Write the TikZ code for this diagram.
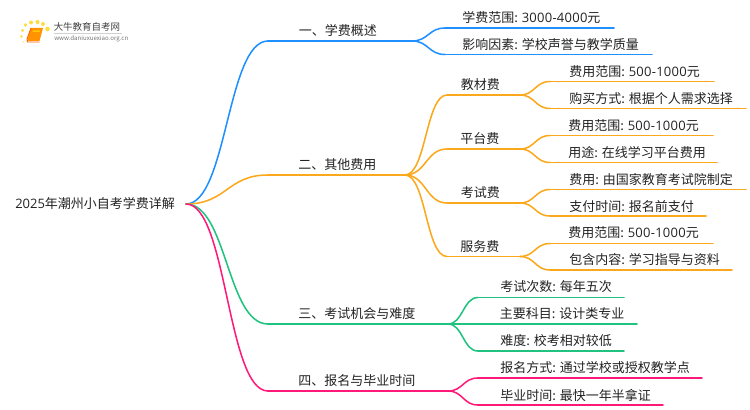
\documentclass[tikz,border=0pt]{standalone}
\usepackage{fontspec}
\setmainfont{Noto Sans CJK SC}
\newfontfamily\lat{Open Sans}
\newfontfamily\latw[LetterSpace=2]{Open Sans}
\usetikzlibrary{calc}
\definecolor{cblue}{HTML}{1E90FF}
\definecolor{corange}{HTML}{FBA81C}
\definecolor{cgreen}{HTML}{1FC27E}
\definecolor{cpink}{HTML}{FF1A7A}
\definecolor{ctext}{HTML}{222222}
\tikzset{
  lab/.style={anchor=west,inner sep=0pt,text=ctext,font=\fontsize{9.75pt}{11pt}\selectfont},
  wire/.style={line width=1.15pt,line cap=round},
  trunk/.style={line width=1.6pt,line cap=round},
}
\newcommand{\curveto}[3][wire]{\draw[#1] (#2) .. controls ($(#2)!0.5!(#3 |- #2)$) and ($(#3)!0.5!(#2 |- #3)$) .. (#3);}
\begin{document}
\begin{tikzpicture}[x=0.75pt,y=-0.75pt]
\useasboundingbox (0,0) rectangle (750,410);
% logo
\foreach \n/\a/\b/\r in {a/21.5/36.5/1.3,b/22.5/30.5/1.6,c/25.5/25/1.8,d/31/22.5/2,e/37.5/22/2.1,f/43/24/2,g/47.5/29/2.3}
  \fill[yellow!70!orange,opacity=.75] (\a,\b) circle[radius=\r];
\fill[yellow!60!orange,opacity=.4] (23,42) circle[radius=1];
\fill[orange!85!yellow] (31,28) -- (43,28) -- (39.5,41) -- (27,41) -- cycle;
\draw[orange!75!red,line width=.7pt] (31,28) -- (27,39) -- (27.5,42) -- (39.5,42);
\fill[yellow!60!orange] (33,30.5) -- (40,30.5) -- (39.5,32) -- (32.5,32) -- cycle;
\node[anchor=west,inner sep=0pt,text=black!75,font=\fontsize{7.1pt}{8pt}\selectfont] (logoname) at (53.5,26.7) {大牛教育自考网};
\draw[black!18,line width=.5pt] (54,33) -- (122,33);
\node[anchor=west,inner sep=0pt,text=black!55,font=\fontsize{4.6pt}{5pt}\selectfont] (logourl) at (54,38.5) {www.daniuxuexiao.org.cn};
% texts
\node[lab] (root) at (15,204) {{\lat 2025}年潮州小自考学费详解};
\node[lab] (b1) at (298.5,31) {一、学费概述};
\node[lab] (b2) at (298,165) {二、其他费用};
\node[lab] (b3) at (298,314) {三、考试机会与难度};
\node[lab] (b4) at (298,381) {四、报名与毕业时间};
\node[lab] (s11) at (462,17.5) {学费范围: {\latw 3000-4000}元};
\node[lab] (s12) at (462,44.5) {影响因素: 学校声誉与教学质量};
\node[lab] (s21) at (460.5,85) {教材费};
\node[lab] (s22) at (460,139) {平台费};
\node[lab] (s23) at (460.5,193) {考试费};
\node[lab] (s24) at (460,246.5) {服务费};
\node[lab] (t1) at (569,71.5) {费用范围: {\latw 500-1000}元};
\node[lab] (t2) at (569,98.5) {购买方式: 根据个人需求选择};
\node[lab] (t3) at (568,125.5) {费用范围: {\latw 500-1000}元};
\node[lab] (t4) at (568,152.5) {用途: 在线学习平台费用};
\node[lab] (t5) at (569,179.5) {费用: 由国家教育考试院制定};
\node[lab] (t6) at (569,206.5) {支付时间: 报名前支付};
\node[lab] (t7) at (568,233) {费用范围: {\latw 500-1000}元};
\node[lab] (t8) at (569,260) {包含内容: 学习指导与资料};
\node[lab] (g1) at (500,287) {考试次数: 每年五次};
\node[lab] (g2) at (499.5,314) {主要科目: 设计类专业};
\node[lab] (g3) at (500,341) {难度: 校考相对较低};
\node[lab] (p1) at (500,367.5) {报名方式: 通过学校或授权教学点};
\node[lab] (p2) at (500,395) {毕业时间: 最快一年半拿证};
% junction coordinates
\coordinate (r) at (186,204);
\coordinate (b1a) at (268,41);  \coordinate (b1b) at (412,41);
\coordinate (b2a) at (268,175); \coordinate (b2b) at (405,175);
\coordinate (b3a) at (268,324); \coordinate (b3b) at (448,324);
\coordinate (b4a) at (268,391); \coordinate (b4b) at (448,391);
\coordinate (s11a) at (445,28); \coordinate (s11b) at (614,28);
\coordinate (s12a) at (445,54.5); \coordinate (s12b) at (652,54.5);
\coordinate (s21a) at (447,95);  \coordinate (s21b) at (520,95);
\coordinate (s22a) at (447,149); \coordinate (s22b) at (520,149);
\coordinate (s23a) at (447,203); \coordinate (s23b) at (520,203);
\coordinate (s24a) at (447,256.5); \coordinate (s24b) at (520,256.5);
\coordinate (t1a) at (550,81.5);  \coordinate (t1b) at (714,81.5);
\coordinate (t2a) at (550,108.5); \coordinate (t2b) at (746,108.5);
\coordinate (t3a) at (550,135.5); \coordinate (t3b) at (713,135.5);
\coordinate (t4a) at (550,162.5); \coordinate (t4b) at (717,162.5);
\coordinate (t5a) at (550,189.5); \coordinate (t5b) at (746,189.5);
\coordinate (t6a) at (550,216);   \coordinate (t6b) at (706,216);
\coordinate (t7a) at (550,243.5); \coordinate (t7b) at (713,243.5);
\coordinate (t8a) at (550,270);   \coordinate (t8b) at (732,270);
\coordinate (g1a) at (478,297.5); \coordinate (g1b) at (624,297.5);
\coordinate (g2a) at (478,324);   \coordinate (g2b) at (637,324);
\coordinate (g3a) at (478,351);   \coordinate (g3b) at (624,351);
\coordinate (p1a) at (478,378);   \coordinate (p1b) at (702,378);
\coordinate (p2a) at (478,405);   \coordinate (p2b) at (663,405);
% blue
\begin{scope}[color=cblue]
\curveto{r}{b1a}
\draw[trunk] (b1a) -- (b1b);
\curveto{b1b}{s11a} \draw[wire] (s11a) -- (s11b);
\curveto{b1b}{s12a} \draw[wire] (s12a) -- (s12b);
\end{scope}
% orange
\begin{scope}[color=corange]
\curveto{r}{b2a}
\draw[trunk] (b2a) -- (b2b);
\foreach \k in {1,2,3,4}{
  \curveto{b2b}{s2\k a}
  \draw[wire] (s2\k a) -- (s2\k b);
}
\curveto{s21b}{t1a} \draw[wire] (t1a) -- (t1b);
\curveto{s21b}{t2a} \draw[wire] (t2a) -- (t2b);
\curveto{s22b}{t3a} \draw[wire] (t3a) -- (t3b);
\curveto{s22b}{t4a} \draw[wire] (t4a) -- (t4b);
\curveto{s23b}{t5a} \draw[wire] (t5a) -- (t5b);
\curveto{s23b}{t6a} \draw[wire] (t6a) -- (t6b);
\curveto{s24b}{t7a} \draw[wire] (t7a) -- (t7b);
\curveto{s24b}{t8a} \draw[wire] (t8a) -- (t8b);
\end{scope}
% green
\begin{scope}[color=cgreen]
\curveto{r}{b3a}
\draw[trunk] (b3a) -- (b3b);
\curveto{b3b}{g1a} \draw[wire] (g1a) -- (g1b);
\draw[wire] (b3b) -- (g2b);
\curveto{b3b}{g3a} \draw[wire] (g3a) -- (g3b);
\end{scope}
% pink
\begin{scope}[color=cpink]
\curveto{r}{b4a}
\draw[trunk] (b4a) -- (b4b);
\curveto{b4b}{p1a} \draw[wire] (p1a) -- (p1b);
\curveto{b4b}{p2a} \draw[wire] (p2a) -- (p2b);
\end{scope}
\end{tikzpicture}
\end{document}
